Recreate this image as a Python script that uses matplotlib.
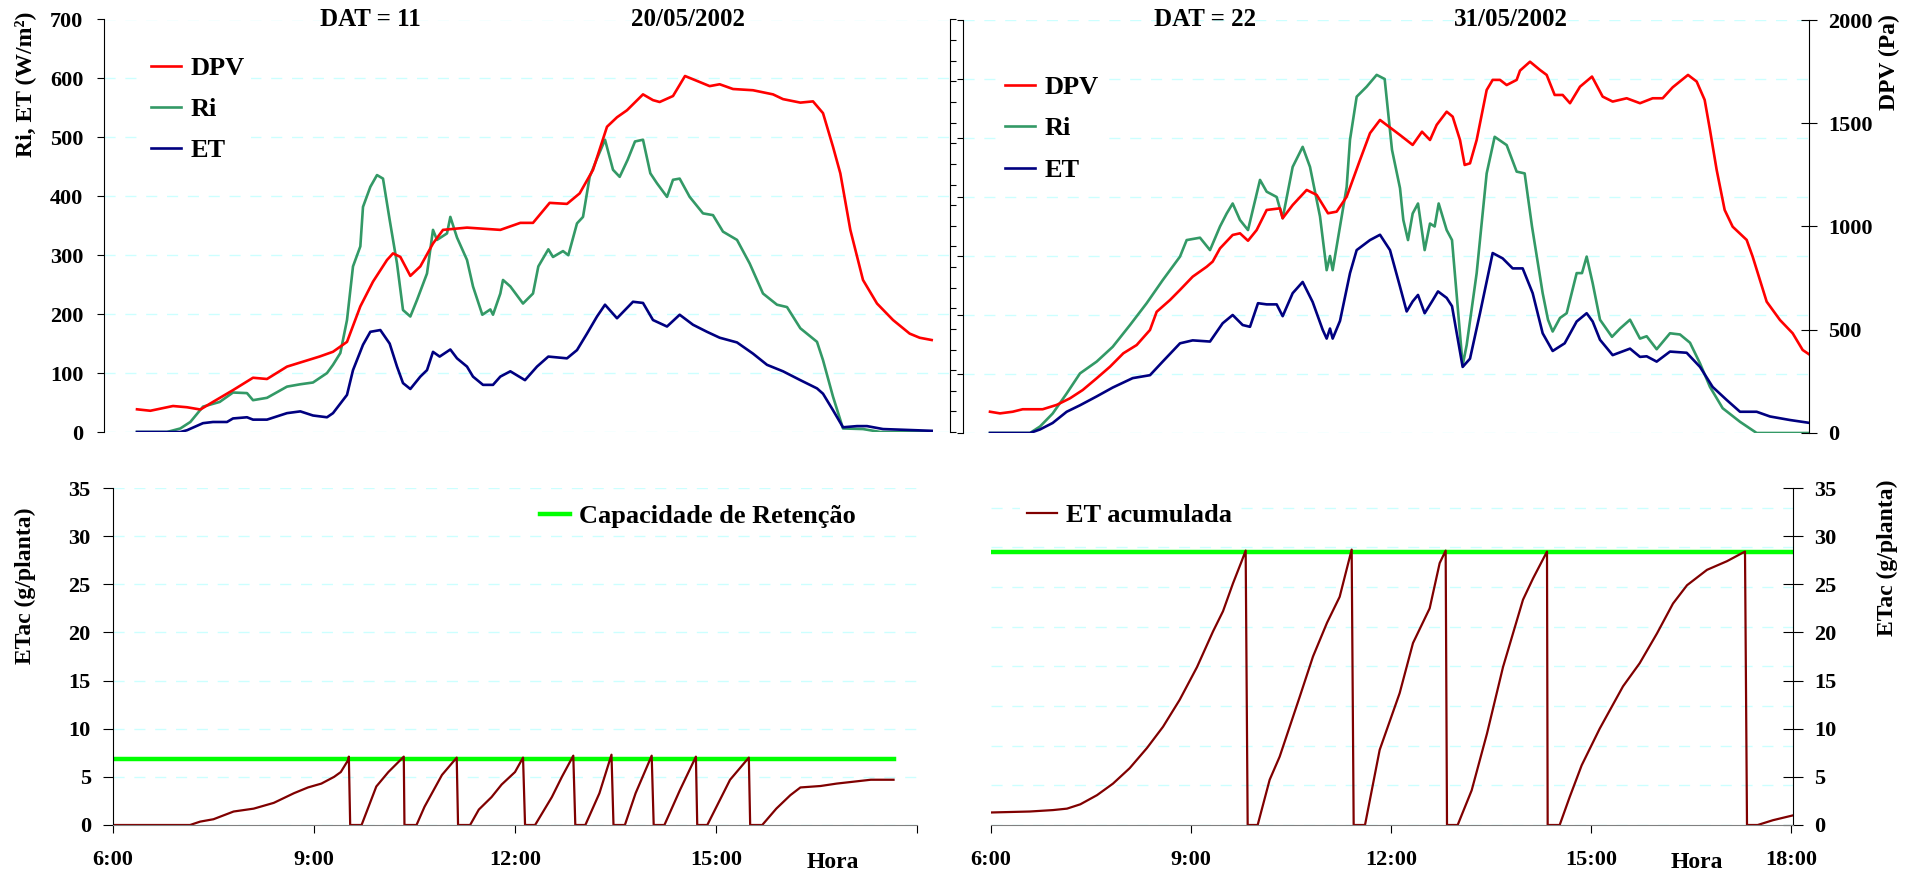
import numpy as np
import matplotlib.pyplot as plt

plt.rcParams['font.family'] = ['Liberation Serif', 'DejaVu Serif']
plt.rcParams['font.weight'] = 'bold'

# ---------------- DAT = 11 (20/05/2002) ----------------
# horas decimais ; DPV em Pa ; Ri e ET em W/m2
d11_dpv_h = [6.00, 6.20, 6.54, 6.75, 6.95, 7.14, 7.44, 7.74, 7.95, 8.25, 8.45, 8.74, 8.94, 9.15,
             9.35, 9.54, 9.75, 9.84, 9.95, 10.10, 10.25, 10.44, 10.59, 10.95, 11.45, 11.75, 11.94,
             12.19, 12.45, 12.64, 12.84, 13.05, 13.20, 13.35, 13.59, 13.74, 13.84, 14.04, 14.22,
             14.44, 14.59, 14.74, 14.94, 15.24, 15.54, 15.69, 15.95, 16.14, 16.29, 16.44, 16.55,
             16.70, 16.89, 17.10, 17.34, 17.59, 17.74, 17.92]
d11_dpv = [110, 103, 126, 120, 109, 146, 203, 263, 257, 317, 337, 366, 389, 437,
           609, 729, 834, 866, 849, 757, 803, 914, 980, 991, 980, 1014, 1014,
           1111, 1106, 1157, 1271, 1480, 1526, 1560, 1637, 1609, 1600, 1629, 1726,
           1697, 1677, 1686, 1663, 1657, 1637, 1614, 1597, 1603, 1546, 1383, 1254,
           980, 737, 623, 543, 477, 457, 446]

d11_ri_h = [6.00, 6.45, 6.65, 6.80, 6.99, 7.24, 7.44, 7.65, 7.74, 7.95, 8.25, 8.45, 8.64, 8.85,
            8.94, 9.05, 9.15, 9.24, 9.35, 9.39, 9.50, 9.60, 9.69, 9.79, 9.90, 9.99, 10.10, 10.20,
            10.35, 10.44, 10.50, 10.65, 10.70, 10.80, 10.95, 11.04, 11.18, 11.30, 11.34, 11.45,
            11.49, 11.60, 11.79, 11.94, 12.02, 12.17, 12.24, 12.39, 12.47, 12.60, 12.69, 12.79,
            12.90, 13.02, 13.14, 13.24, 13.36, 13.47, 13.59, 13.70, 13.80, 13.95, 14.04, 14.14,
            14.29, 14.49, 14.64, 14.79, 15.00, 15.19, 15.39, 15.60, 15.75, 15.95, 16.20, 16.29,
            16.44, 16.59, 16.89, 17.15, 17.92]
d11_ri = [0, 0, 6, 17, 43, 51, 67, 66, 54, 58, 77, 81, 84, 100,
          114, 134, 190, 281, 315, 382, 416, 436, 430, 360, 286, 207, 196, 224,
          269, 343, 326, 337, 365, 330, 292, 247, 199, 208, 199, 235,
          258, 247, 218, 235, 281, 310, 297, 307, 300, 354, 365, 433,
          464, 496, 445, 433, 462, 493, 496, 439, 422, 399, 428, 430,
          399, 371, 368, 340, 326, 286, 235, 216, 212, 176, 153, 122,
          60, 6, 5, 0, 0]

d11_et_h = [6.00, 6.65, 6.75, 6.99, 7.14, 7.35, 7.44, 7.65, 7.74, 7.95, 8.25, 8.45, 8.64, 8.85,
            8.94, 9.15, 9.24, 9.39, 9.50, 9.65, 9.79, 9.90, 9.99, 10.10, 10.25, 10.35, 10.44,
            10.54, 10.70, 10.80, 10.95, 11.04, 11.19, 11.34, 11.45, 11.60, 11.82, 12.00, 12.17,
            12.45, 12.60, 12.75, 12.90, 13.02, 13.20, 13.44, 13.59, 13.74, 13.95, 14.14, 14.34,
            14.55, 14.74, 15.00, 15.24, 15.45, 15.69, 15.95, 16.20, 16.29, 16.44, 16.59, 16.80,
            16.95, 17.19, 17.44, 17.92]
d11_et = [0, 0, 3, 15, 17, 17, 23, 25, 21, 21, 32, 35, 28, 25,
          32, 63, 105, 148, 170, 173, 150, 111, 83, 73, 94, 105, 136,
          128, 140, 125, 111, 94, 80, 80, 94, 103, 88, 111, 128,
          125, 139, 167, 196, 216, 193, 221, 219, 190, 179, 199, 182,
          170, 160, 152, 133, 114, 103, 88, 74, 65, 37, 8, 10,
          10, 5, 4, 2]

d11_etac_h = [6.00, 7.15, 7.30, 7.50, 7.80, 8.10, 8.40, 8.70, 8.91, 9.11, 9.30, 9.40, 9.51, 9.52,
              9.54, 9.71, 9.93, 10.11, 10.34, 10.35, 10.53, 10.65, 10.91, 11.13, 11.15, 11.33,
              11.46, 11.65, 11.80, 12.00, 12.12, 12.15, 12.30, 12.55, 12.70, 12.87, 12.90, 13.05,
              13.26, 13.44, 13.47, 13.64, 13.80, 14.04, 14.07, 14.23, 14.46, 14.70, 14.72, 14.87,
              15.21, 15.49, 15.51, 15.69, 15.90, 16.11, 16.26, 16.56, 16.80, 17.31, 17.65]
d11_etac = [0, 0, 0.35, 0.6, 1.4, 1.7, 2.3, 3.3, 3.9, 4.3, 5.0, 5.5, 6.75, 7.1,
            0, 0, 4.0, 5.5, 7.1, 0, 0, 1.9, 5.2, 7.0, 0, 0,
            1.6, 2.9, 4.2, 5.5, 7.0, 0, 0, 2.9, 5.0, 7.2, 0, 0,
            3.3, 7.3, 0, 0, 3.3, 7.2, 0, 0, 3.6, 7.1, 0, 0,
            4.7, 7.0, 0, 0, 1.7, 3.1, 3.9, 4.05, 4.3, 4.7, 4.7]
d11_cap_h = [6.00, 17.65]
d11_cap = [6.85, 6.85]

# ---------------- DAT = 22 (31/05/2002) ----------------
d22_dpv_h = [6.00, 6.15, 6.34, 6.49, 6.79, 7.00, 7.20, 7.39, 7.60, 7.80, 8.00, 8.20, 8.40, 8.50,
             8.70, 8.85, 9.04, 9.25, 9.34, 9.45, 9.64, 9.75, 9.87, 10.00, 10.15, 10.35, 10.39,
             10.54, 10.75, 10.90, 11.07, 11.20, 11.35, 11.55, 11.70, 11.85, 12.15, 12.34, 12.48,
             12.60, 12.70, 12.85, 12.94, 13.05, 13.12, 13.20, 13.30, 13.45, 13.54, 13.65, 13.75,
             13.90, 13.95, 14.10, 14.25, 14.35, 14.47, 14.59, 14.70, 14.85, 15.03, 15.19, 15.34,
             15.55, 15.75, 15.94, 16.09, 16.24, 16.47, 16.60, 16.72, 16.80, 16.90, 17.02, 17.14,
             17.35, 17.44, 17.65, 17.85, 18.04, 18.19, 18.30]
d22_dpv = [103, 95, 103, 115, 115, 136, 168, 208, 265, 321, 386, 426, 499, 587,
           644, 693, 757, 805, 830, 894, 959, 967, 931, 983, 1080, 1088, 1040,
           1104, 1177, 1153, 1064, 1072, 1144, 1322, 1452, 1516, 1443, 1395, 1459,
           1419, 1492, 1556, 1532, 1419, 1298, 1306, 1419, 1661, 1710, 1710, 1685,
           1710, 1755, 1798, 1758, 1734, 1637, 1637, 1597, 1677, 1726, 1629, 1605,
           1621, 1597, 1621, 1621, 1674, 1734, 1702, 1613, 1467, 1274, 1080, 999,
           935, 854, 636, 547, 483, 402, 378]

d22_ri_h = [6.00, 6.60, 6.75, 6.94, 7.15, 7.35, 7.60, 7.84, 8.10, 8.35, 8.59, 8.85, 8.95, 9.15,
            9.30, 9.45, 9.55, 9.64, 9.75, 9.87, 10.05, 10.15, 10.30, 10.39, 10.54, 10.69, 10.80,
            10.95, 11.05, 11.10, 11.14, 11.25, 11.35, 11.40, 11.50, 11.65, 11.80, 11.92, 12.03,
            12.15, 12.20, 12.27, 12.34, 12.42, 12.52, 12.60, 12.67, 12.73, 12.85, 12.93, 13.09,
            13.15, 13.30, 13.45, 13.57, 13.75, 13.90, 14.02, 14.13, 14.29, 14.37, 14.44, 14.55,
            14.65, 14.80, 14.88, 14.95, 15.04, 15.15, 15.33, 15.45, 15.60, 15.75, 15.85, 16.00,
            16.20, 16.35, 16.50, 16.65, 16.80, 16.99, 17.25, 17.50, 18.30]
d22_ri = [0, 0, 11, 33, 67, 101, 121, 146, 183, 220, 259, 299, 327, 331,
          310, 350, 372, 389, 361, 344, 429, 409, 400, 364, 451, 485, 451,
          367, 276, 300, 276, 350, 417, 497, 570, 587, 607, 600, 480,
          415, 361, 327, 372, 389, 310, 355, 350, 389, 344, 327, 115,
          149, 271, 440, 502, 488, 443, 440, 350, 237, 192, 172, 195,
          203, 271, 271, 299, 254, 192, 163, 177, 192, 160, 164, 142,
          169, 167, 153, 118, 78, 42, 19, 0, 0]

d22_et_h = [6.00, 6.60, 6.75, 6.94, 7.15, 7.35, 7.60, 7.84, 8.14, 8.40, 8.59, 8.85, 9.04, 9.30,
            9.49, 9.64, 9.79, 9.90, 10.02, 10.15, 10.30, 10.39, 10.54, 10.69, 10.84, 10.99, 11.05,
            11.10, 11.14, 11.25, 11.40, 11.50, 11.70, 11.85, 12.00, 12.15, 12.25, 12.34, 12.42,
            12.52, 12.63, 12.72, 12.85, 12.93, 13.09, 13.20, 13.35, 13.54, 13.69, 13.84, 13.99,
            14.14, 14.29, 14.44, 14.62, 14.80, 14.95, 15.04, 15.15, 15.34, 15.60, 15.75, 15.85,
            16.00, 16.20, 16.45, 16.65, 16.84, 17.05, 17.25, 17.50, 17.70, 18.00, 18.30]
d22_et = [0, 0, 6, 17, 36, 47, 62, 77, 93, 98, 121, 152, 157, 155,
          186, 200, 183, 180, 220, 218, 218, 198, 237, 256, 222, 175, 160,
          177, 160, 190, 271, 310, 327, 336, 310, 248, 206, 223, 234,
          203, 223, 240, 229, 215, 112, 126, 203, 305, 296, 279, 279,
          237, 169, 139, 152, 189, 203, 189, 158, 132, 143, 129, 130,
          121, 138, 136, 112, 78, 56, 36, 36, 28, 22, 17]

d22_etac_h = [6.00, 6.58, 6.93, 7.14, 7.34, 7.59, 7.83, 8.08, 8.34, 8.58, 8.83, 9.09, 9.33, 9.48,
              9.63, 9.76, 9.82, 9.85, 10.00, 10.18, 10.33, 10.63, 10.83, 11.04, 11.23, 11.41,
              11.44, 11.61, 11.83, 12.13, 12.33, 12.58, 12.73, 12.82, 12.84, 13.00, 13.21, 13.44,
              13.68, 13.86, 13.98, 14.13, 14.34, 14.35, 14.53, 14.68, 14.86, 15.13, 15.48, 15.73,
              15.99, 16.23, 16.44, 16.74, 17.04, 17.31, 17.34, 17.50, 17.73, 18.03]
d22_etac = [1.3, 1.4, 1.55, 1.7, 2.15, 3.1, 4.3, 5.9, 8.0, 10.2, 13.0, 16.4, 20.1, 22.2,
            25.1, 27.4, 28.5, 0, 0, 4.7, 7.1, 13.3, 17.5, 21.0, 23.7, 28.6,
            0, 0, 7.8, 13.7, 18.9, 22.5, 27.2, 28.5, 0, 0, 3.6, 9.5,
            16.4, 20.6, 23.4, 25.6, 28.4, 0, 0, 2.9, 6.2, 10.0, 14.4, 16.8,
            19.9, 23.0, 24.9, 26.5, 27.4, 28.4, 0, 0, 0.5, 1.0]
d22_cap_h = [6.00, 18.05]
d22_cap = [28.4, 28.4]

horas_ticks = [6, 9, 12, 15, 18]

vermelho = '#ff0000'
verde = '#339966'
azul = '#000080'
marrom = '#800000'
verde_claro = '#00ff00'
grade = dict(color='#ccffff', linestyle=(0, (8, 7)), linewidth=1)

W, H = 1918, 877
fig = plt.figure(figsize=(W / 100, H / 100), dpi=100)


def eixo(x0, x1, y0, y1):
    # posicao em pixels (origem no canto superior esquerdo)
    return fig.add_axes([x0 / W, 1 - y1 / H, (x1 - x0) / W, (y1 - y0) / H])


def legenda(ax, handles, x, y, **kw):
    leg = ax.legend(handles=handles, loc='upper left', bbox_to_anchor=(x / W, 1 - y / H),
                    bbox_transform=fig.transFigure, frameon=True, fancybox=False,
                    facecolor='white', edgecolor='none', framealpha=1, fontsize=19,
                    handlelength=1.15, handletextpad=0.35, borderpad=0.25, borderaxespad=0, **kw)
    return leg


# ---------- painel superior esquerdo ----------
ax1 = eixo(104, 950, 19.5, 432)
ax1.set_xlim(5.505, 18.195)
ax1.set_ylim(0, 700)
ax1.set_yticks(range(0, 701, 100))
ax1.yaxis.grid(True, **grade)
l_ri, = ax1.plot(d11_ri_h, d11_ri, color=verde, lw=1.9, label='Ri')
l_et, = ax1.plot(d11_et_h, d11_et, color=azul, lw=1.9, label='ET')
for s in ['top', 'bottom', 'right']:
    ax1.spines[s].set_visible(False)
ax1.set_xticks([])
ax1.tick_params(axis='y', direction='out', length=5, labelsize=16, pad=10)
ax1b = ax1.twinx()
ax1b.set_ylim(0, 2000)
ax1b.set_yticks(range(0, 2001, 100))
ax1b.tick_params(axis='y', direction='out', length=4.5, labelright=False)
l_dpv, = ax1b.plot(d11_dpv_h, d11_dpv, color=vermelho, lw=1.9, label='DPV')
for s in ['top', 'bottom', 'left']:
    ax1b.spines[s].set_visible(False)
legenda(ax1b, [l_dpv, l_ri, l_et], 144, 50, labelspacing=0.66)

# ---------- painel superior direito ----------
ax2 = eixo(963, 1809, 20, 433)
ax2.set_xlim(5.595, 18.285)
ax2.set_ylim(0, 700)
ax2.set_yticks(range(0, 701, 100))
ax2.yaxis.grid(True, **grade)
r_ri, = ax2.plot(d22_ri_h, d22_ri, color=verde, lw=1.9, label='Ri')
r_et, = ax2.plot(d22_et_h, d22_et, color=azul, lw=1.9, label='ET')
for s in ['top', 'bottom', 'right']:
    ax2.spines[s].set_visible(False)
ax2.set_xticks([])
ax2.tick_params(axis='y', direction='out', length=4.5, labelleft=False)
ax2b = ax2.twinx()
ax2b.set_ylim(0, 2000)
ax2b.set_yticks(range(0, 2001, 500))
ax2b.tick_params(axis='y', direction='inout', length=11, labelsize=16, pad=8)
r_dpv, = ax2b.plot(d22_dpv_h, d22_dpv, color=vermelho, lw=1.9, label='DPV')
for s in ['top', 'bottom', 'left']:
    ax2b.spines[s].set_visible(False)
legenda(ax2b, [r_dpv, r_ri, r_et], 998, 69, labelspacing=0.68)

# ---------- painel inferior esquerdo ----------
ax3 = eixo(113, 917, 488, 825)
ax3.set_xlim(6, 18)
ax3.set_ylim(0, 35)
ax3.set_yticks(range(0, 36, 5))
ax3.yaxis.grid(True, **grade)
ax3.plot(d11_cap_h, d11_cap, color=verde_claro, lw=3.2, label='Capacidade de Retenção')
ax3.plot(d11_etac_h, d11_etac, color=marrom, lw=1.6, label='ET acumulada')
ax3.set_xticks(horas_ticks)
ax3.set_xticklabels(['6:00', '9:00', '12:00', '15:00', ''])
for s in ['top', 'right']:
    ax3.spines[s].set_visible(False)
ax3.spines['bottom'].set_color('#808080')
ax3.tick_params(axis='y', direction='out', length=7, labelsize=16, pad=9)
ax3.tick_params(axis='x', direction='out', length=6, labelsize=16, pad=12)
h3 = ax3.get_lines()
legenda(ax3, [h3[0]], 533, 498)

# ---------- painel inferior direito ----------
ax4 = eixo(991, 1793, 488, 825)
axg = ax4.twinx()
axg.set_ylim(0, 8.5)
axg.set_yticks(range(0, 9))
axg.yaxis.grid(True, **grade)
axg.tick_params(left=False, right=False, labelleft=False, labelright=False)
for s in axg.spines.values():
    s.set_visible(False)
ax4.set_zorder(axg.get_zorder() + 1)
ax4.patch.set_visible(False)
ax4.set_xlim(6, 18.03)
ax4.set_ylim(0, 35)
ax4.set_yticks(range(0, 36, 5))
ax4.plot(d22_cap_h, d22_cap, color=verde_claro, lw=3.2, label='Capacidade de Retenção')
l_ac, = ax4.plot(d22_etac_h, d22_etac, color=marrom, lw=1.6, label='ET acumulada')
ax4.yaxis.tick_right()
ax4.set_xticks(horas_ticks)
ax4.set_xticklabels(['6:00', '9:00', '12:00', '15:00', '18:00'])
for s in ['top', 'left']:
    ax4.spines[s].set_visible(False)
ax4.spines['right'].set_visible(True)
ax4.spines['bottom'].set_color('#808080')
ax4.tick_params(axis='y', direction='inout', length=14, labelsize=16, pad=8)
ax4.tick_params(axis='x', direction='out', length=6, labelsize=16, pad=12)
legenda(ax4, [l_ac], 1020, 497)

# ---------- textos ----------
fs_t = 18
fig.text(370 / W, 1 - 20 / H, 'DAT = 11', ha='center', va='center', fontsize=fs_t)
fig.text(688 / W, 1 - 20 / H, '20/05/2002', ha='center', va='center', fontsize=fs_t)
fig.text(1205 / W, 1 - 20 / H, 'DAT = 22', ha='center', va='center', fontsize=fs_t)
fig.text(1511 / W, 1 - 20 / H, '31/05/2002', ha='center', va='center', fontsize=fs_t)

fig.text(25 / W, 1 - 84 / H, 'Ri, ET (W/m²)', rotation=90, ha='center', va='center', fontsize=17)
fig.text(1889 / W, 1 - 62 / H, 'DPV (Pa)', rotation=90, ha='center', va='center', fontsize=17)
fig.text(25 / W, 1 - 586 / H, 'ETac (g/planta)', rotation=90, ha='center', va='center', fontsize=17)
fig.text(1887 / W, 1 - 558 / H, 'ETac (g/planta)', rotation=90, ha='center', va='center', fontsize=17)

fig.text(833 / W, 1 - 862 / H, 'Hora', ha='center', va='center', fontsize=17)
fig.text(1697 / W, 1 - 862 / H, 'Hora', ha='center', va='center', fontsize=17)

fig.savefig('out.png', dpi=100)
